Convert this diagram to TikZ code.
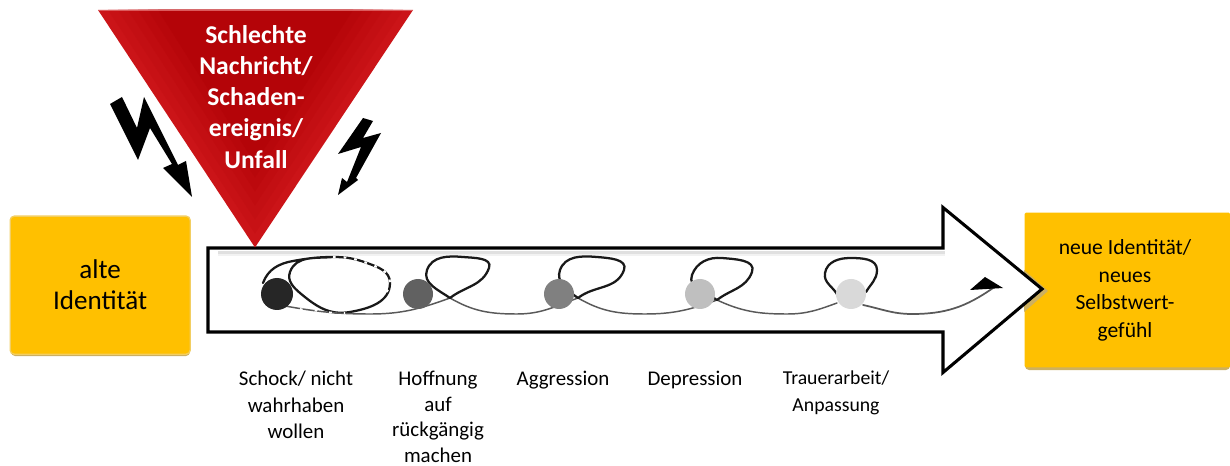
\documentclass[tikz,border=0pt]{standalone}
\usepackage{fontspec}
\setmainfont{Carlito}
\usetikzlibrary{arrows.meta}
\definecolor{boxgold}{HTML}{FFC000}
\definecolor{boxedge}{HTML}{F2CE62}
\definecolor{boxshadow}{HTML}{CDB060}
\definecolor{redlight}{HTML}{CB1418}
\definecolor{reddark}{HTML}{B40408}
\tikzset{
  x=0.75pt,y=-0.75pt,
  goldbox/.style={rectangle,rounded corners=3pt,fill=boxgold,draw=boxedge,line width=1pt,inner sep=0pt,align=center,font=\fontsize{20.3}{23.3}\selectfont},
  goldshadow/.style={rounded corners=3pt,fill=boxshadow},
  dotmark/.style={circle,minimum size=22.5pt,inner sep=0pt},
  caption/.style={align=center,font=\fontsize{15.7}{19.8}\selectfont,anchor=north,inner sep=0pt},
  loopline/.style={line width=1.7pt,line cap=round,line join=round,black!90},
  baseline/.style={line width=1.1pt,line cap=round,line join=round,black!65},
  bolt/.style={fill=black},
}
\begin{document}
\begin{tikzpicture}
\useasboundingbox (0,0) rectangle (1230,466);
% gold boxes
\fill[goldshadow] (11,222) rectangle (190,356);
\node[goldbox,minimum width=135pt,minimum height=103.5pt,anchor=north west] (old) at (9.5,215.5) {alte\\Identität};
\fill[goldshadow] (1025,216) rectangle (1230,370);
\node[goldbox,minimum width=154pt,minimum height=116pt,anchor=north west,draw=none,rounded corners=1pt] (new) at (1024,212) {};
\node[align=center,font=\fontsize{16.2}{20.6}\selectfont] (newtext) at (1125,290.5) {neue Identität/\\neues\\Selbstwert-\\gefühl};
% arrow
\begin{scope}
\clip (1024,212) rectangle (1230,368);
\fill[boxshadow] (1015,262) -- (1048,291) -- (1015,320) -- cycle;
\end{scope}
\draw[fill=white,line width=2.3pt,miter limit=10] (208,248) -- (943,248) -- (943,207.5) -- (1042,289) -- (943,372.5) -- (943,332) -- (208,332) -- cycle;
\fill[black!12] (218,251) rectangle (945,254);
\fill[black!5] (218,254) rectangle (945,256);
% spiral: first loop
\draw[loopline] (263,283) to[out=70,in=190] (293,261) to[out=10,in=180] (333,257) to[out=0,in=160] (367,263) to[out=-20,in=90] (390,283) to[out=-90,in=10] (350,312) to[out=190,in=-40] (300,293) to[out=140,in=-110] (290,272) to[out=70,in=185] (333,257);
\draw[white,line width=1.6pt,dash pattern=on 2pt off 6pt] (333,257) to[out=0,in=160] (367,263) to[out=-20,in=90] (390,283) to[out=-90,in=40] (377,300);
% baseline runs between the loops
\draw[baseline] (285,306) to[out=-10,in=180] (370,314) to[out=0,in=-160] (450,298);
\draw[white,line width=1.2pt,dash pattern=on 2pt off 9pt] (300,309) to[out=-5,in=180] (345,313);
\draw[baseline] (450,298) to[out=-30,in=180] (517,314) to[out=0,in=-160] (578,298);
\draw[baseline] (578,298) to[out=-30,in=180] (645,314) to[out=0,in=-160] (717,300);
\draw[baseline] (717,300) to[out=-25,in=180] (787,314) to[out=0,in=-160] (837,303);
\draw[baseline,line width=1.3pt] (863,305) to[out=-12,in=180] (912,314) to[out=0,in=-145] (993,288);
% loops
\draw[loopline] (450,298) to[out=38,in=-110] (489,268) to[out=70,in=-5] (463,257) to[out=175,in=70] (427,270) to[out=-110,in=145] (450,298);
\draw[loopline] (578,298) to[out=38,in=-110] (624,270) to[out=70,in=-5] (597,257) to[out=175,in=70] (560,270) to[out=-110,in=145] (578,298);
\draw[loopline] (717,300) to[out=38,in=-110] (752,272) to[out=70,in=-5] (722,258) to[out=175,in=70] (692,275) to[out=-110,in=145] (717,300);
\draw[loopline] (838,296) to[out=115,in=-100] (825,273) to[out=80,in=180] (850,258) to[out=0,in=90] (877,270) to[out=-90,in=60] (866,292);
\fill[black] (970,290) -- (985,277) -- (1003,288) -- cycle;
% stage dots
\node[dotmark,fill=black!85,minimum size=24pt] (d1) at (277,294) {};
\node[dotmark,fill=black!62] (d2) at (418,294) {};
\node[dotmark,fill=black!50] (d3) at (559,294) {};
\node[dotmark,fill=black!25] (d4) at (700,294) {};
\node[dotmark,fill=black!15] (d5) at (851,294) {};
% captions
\node[caption] (c1) at (296,371) {Schock/ nicht\\wahrhaben\\wollen};
\node[caption,font=\fontsize{15.7}{19.4}\selectfont] (c2) at (438,370.5) {Hoffnung\\auf\\rückgängig\\machen};
\node[caption] (c3) at (563,371) {Aggression};
\node[caption] (c4) at (695,371) {Depression};
\node[caption,font=\fontsize{14.8}{19.8}\selectfont] (c5) at (836,371) {Trauerarbeit/\\Anpassung};
% triangle
\foreach \i in {0,...,6}{
  \pgfmathsetmacro{\mixv}{\i*100/6}
  \fill[reddark!\mixv!redlight] ({98+\i*10},10) -- ({413-\i*10},10) -- (255,{247.5-\i*14}) -- cycle;
}
\fill[redlight!70!white] (98,10) rectangle (413,11.5);
\node[align=center,text=white,font=\fontsize{19.2}{23.3}\selectfont\bfseries] (bad) at (256,97) {Schlechte\\Nachricht/\\Schaden-\\ereignis/\\Unfall};
% bolts
\fill[bolt] (110,104) -- (122,97) -- (137,128) -- (144,97) -- (178,165) -- (186,161) -- (192,197) -- (163,168) -- (172,164) -- (150,128) -- (138,160) -- cycle;
\fill[bolt] (363,118) -- (373,121) -- (363,138) -- (381,133) -- (356,178) -- (358,180) -- (338,195) -- (342,178) -- (347,182) -- (361,147) -- (338,154) -- cycle;
\end{tikzpicture}
\end{document}
